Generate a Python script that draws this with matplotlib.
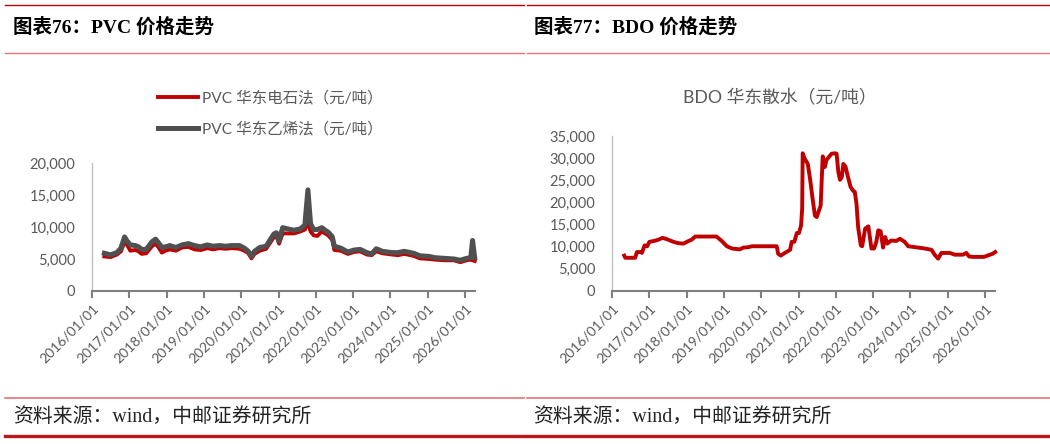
import matplotlib
matplotlib.use("Agg")
import matplotlib.pyplot as plt
from matplotlib.ticker import FuncFormatter, MultipleLocator
from matplotlib.lines import Line2D
import pandas as pd

plt.rcParams['font.family'] = ['Lato', 'Noto Sans CJK SC', 'DejaVu Sans']

# ---------------- data ----------------
pvc_dates = ["2016-05-01", "2016-07-01", "2016-09-01", "2016-10-10", "2016-11-15", "2016-12-10",
             "2017-01-10", "2017-03-01", "2017-04-01", "2017-05-01", "2017-06-15", "2017-08-10",
             "2017-09-15", "2017-10-15", "2017-11-15", "2017-12-20", "2018-02-01", "2018-04-01",
             "2018-06-01", "2018-08-01", "2018-10-01", "2018-12-01", "2019-02-01", "2019-04-01",
             "2019-06-01", "2019-08-01", "2019-10-01", "2019-12-15", "2020-02-01", "2020-03-10",
             "2020-04-10", "2020-05-10", "2020-07-01", "2020-09-01", "2020-11-15", "2020-12-10",
             "2021-01-05", "2021-02-10", "2021-04-01", "2021-06-01", "2021-08-01", "2021-09-15",
             "2021-10-15", "2021-11-10", "2021-12-10", "2022-01-15", "2022-03-01", "2022-04-01",
             "2022-05-01", "2022-06-10", "2022-07-01", "2022-09-01", "2022-11-10", "2023-01-10",
             "2023-03-10", "2023-05-15", "2023-07-01", "2023-08-15", "2023-10-15", "2024-01-15",
             "2024-03-15", "2024-05-15", "2024-08-15", "2024-10-15", "2025-01-15", "2025-03-15",
             "2025-06-15", "2025-09-15", "2025-11-15", "2026-01-15", "2026-02-25", "2026-03-15",
             "2026-04-05"]
pvc_carbide = [5400, 5300, 5700, 6200, 7700, 7200,
               6300, 6400, 6200, 5800, 5900, 7000,
               7400, 6800, 6000, 6300, 6500, 6300,
               6800, 6900, 6500, 6400, 6700, 6500,
               6700, 6600, 6700, 6600, 6300, 5900,
               5100, 5800, 6300, 6600, 8400, 8600,
               7400, 9000, 9000, 9000, 9300, 9600,
               10800, 9300, 8700, 8600, 9300, 9000,
               8700, 8000, 6400, 6300, 5800, 6100,
               6200, 5700, 5600, 6200, 5900, 5700,
               5600, 5800, 5500, 5100, 5000, 4900,
               4800, 4800, 4500, 4800, 4900, 4800,
               4700]
pvc_ethylene = [5900, 5650, 6000, 6700, 8450, 7800,
                7200, 7100, 6900, 6500, 6500, 7700,
                8100, 7500, 6800, 6900, 7100, 6800,
                7200, 7400, 7100, 6900, 7200, 7000,
                7100, 7000, 7100, 7100, 6700, 6200,
                5400, 6200, 6800, 7000, 8900, 9100,
                7800, 9900, 9700, 9500, 9700, 10300,
                15800, 10500, 9600, 9600, 9900, 9500,
                9200, 8500, 7000, 6700, 6100, 6400,
                6500, 6000, 5800, 6600, 6200, 6000,
                6000, 6200, 5900, 5500, 5400, 5200,
                5100, 5000, 4800, 5100, 5200, 7900,
                5200]

bdo_dates = ["2016-04-30", "2016-05-10", "2016-08-15", "2016-09-01", "2016-10-10", "2016-10-20",
             "2016-11-15", "2016-12-10", "2017-01-01", "2017-02-15", "2017-04-01", "2017-05-10",
             "2017-06-20", "2017-08-25", "2017-10-10", "2017-12-01", "2018-01-20", "2018-02-20",
             "2018-03-25", "2018-10-20", "2018-12-10", "2019-01-30", "2019-03-20", "2019-06-05",
             "2019-07-10", "2019-08-30", "2019-10-01", "2020-06-01", "2020-06-15", "2020-07-10",
             "2020-08-20", "2020-10-10", "2020-10-25", "2020-11-20", "2020-12-15", "2021-01-05",
             "2021-01-25", "2021-02-05", "2021-02-10", "2021-03-01", "2021-04-01", "2021-04-25",
             "2021-05-20", "2021-06-10", "2021-06-28", "2021-08-05", "2021-08-25", "2021-09-15",
             "2021-10-01", "2021-11-20", "2021-12-25", "2022-01-08", "2022-01-25", "2022-02-10",
             "2022-02-28", "2022-03-15", "2022-04-05", "2022-04-30", "2022-05-25", "2022-06-20",
             "2022-07-05", "2022-07-22", "2022-08-07", "2022-09-02", "2022-09-15", "2022-10-15",
             "2022-11-15", "2022-12-15", "2023-01-10", "2023-02-01", "2023-02-20", "2023-03-15",
             "2023-04-08", "2023-04-28", "2023-05-20", "2023-06-25", "2023-08-15", "2023-09-20",
             "2023-11-05", "2023-12-10", "2024-04-20", "2024-05-20", "2024-07-25", "2024-08-25",
             "2024-09-28", "2024-10-30", "2025-01-20", "2025-03-10", "2025-05-30", "2025-07-01",
             "2025-07-28", "2025-09-05", "2025-12-20", "2026-03-15", "2026-04-10"]
bdo_east = [8000, 7500, 7500, 8800, 8800, 8600,
            10300, 10100, 11100, 11300, 11600, 12000,
            11700, 11100, 10800, 10700, 11300, 11600,
            12300, 12300, 11300, 10100, 9600, 9400,
            9800, 9900, 10100, 10100, 8400, 8000,
            8600, 9300, 11100, 11100, 13100, 13100,
            14800, 18600, 31100, 29900, 28700, 25000,
            20500, 17000, 16700, 19300, 30400, 28000,
            29600, 31000, 31100, 31000, 26900, 25100,
            25700, 28700, 28100, 25700, 23500, 22600,
            22400, 19700, 14400, 10300, 10100, 14100,
            14600, 9600, 9600, 11100, 13700, 13500,
            9800, 12200, 10700, 11400, 11300, 11800,
            11100, 10100, 9700, 9600, 9300, 8200,
            7300, 8600, 8600, 8200, 8200, 8600,
            7800, 7700, 7700, 8400, 8800]

xtick_years = list(range(2016, 2027))

# ---------------- figure ----------------
W, H = 1050, 444
fig = plt.figure(figsize=(W / 100, H / 100), dpi=100)

red_dark = '#c00000'
red_light = '#e57373'
text_grey = '#595959'

def hline(y, x0, x1, color, lw):
    fig.add_artist(Line2D([x0 / W, x1 / W], [1 - y / H, 1 - y / H], color=color, lw=lw,
                          transform=fig.transFigure))

for (x0, x1) in [(5, 524), (527, 1050)]:
    hline(5, x0, x1, red_dark, 1.0)
    hline(53, x0, x1, red_light, 1.0)
    hline(398, x0, x1, red_light, 1.2)
    hline(436, x0, x1, '#c0161c', 2.4)

title_family = ['Liberation Serif', 'Noto Sans CJK SC']
fig.text(13 / W, 1 - 27 / H, '图表76：PVC 价格走势', family=title_family, fontweight='bold',
         fontsize=14, va='center', ha='left', color='black')
fig.text(534 / W, 1 - 27 / H, '图表77：BDO 价格走势', family=title_family, fontweight='bold',
         fontsize=14, va='center', ha='left', color='black')
src_family = ['Liberation Serif', 'Noto Sans CJK SC']
for x in (13, 533):
    fig.text(x / W, 1 - 417 / H, '资料来源：wind，中邮证券研究所', family=src_family,
             fontsize=14.3, fontweight='light', va='center', ha='left', color='#222222')

def style_axes(ax, ymax, ystep):
    ax.set_ylim(0, ymax)
    ax.yaxis.set_major_locator(MultipleLocator(ystep))
    ax.yaxis.set_major_formatter(FuncFormatter(lambda v, p: f'{int(v):,}'))
    ax.set_xlim(pd.Timestamp('2016-01-01'), pd.Timestamp('2026-04-08'))
    ax.set_xticks([pd.Timestamp(f'{y}-01-01') for y in xtick_years])
    ax.set_xticklabels([f'{y}/01/01' for y in xtick_years])
    for s in ['top', 'right']:
        ax.spines[s].set_visible(False)
    ax.spines['left'].set_color('#bfbfbf')
    ax.spines['left'].set_linewidth(1.0)
    ax.spines['bottom'].set_color('#7f7f7f')
    ax.spines['bottom'].set_linewidth(1.5)
    ax.tick_params(axis='y', length=0, pad=12, labelsize=10.5, labelcolor=text_grey)
    ax.tick_params(axis='x', length=5, width=1.5, color='#7f7f7f', direction='out',
                   labelsize=10, labelcolor=text_grey, pad=3)
    for lab in ax.get_xticklabels():
        lab.set_rotation(45)
        lab.set_ha('right')
        lab.set_va('top')
        lab.set_rotation_mode('anchor')
    ax.patch.set_alpha(0)

# Left: PVC
ax1 = fig.add_axes([92 / W, 1 - 291 / H, 383 / W, 128 / H])
d1 = pd.to_datetime(pvc_dates)
ax1.plot(d1, pvc_carbide, color=red_dark, lw=2.8, solid_joinstyle='round', zorder=2,
         clip_on=False, label='PVC 华东电石法（元/吨）')
ax1.plot(d1, pvc_ethylene, color='#505050', lw=3.6, solid_joinstyle='round', zorder=3,
         clip_on=False, label='PVC 华东乙烯法（元/吨）')
style_axes(ax1, 20000, 5000)

leg = ax1.legend(loc='upper left', bbox_to_anchor=(150 / W, 1 - 83 / H),
                 bbox_transform=fig.transFigure, frameon=False, fontsize=11.2,
                 handlelength=2.6, handletextpad=0.25, labelspacing=1.05, borderpad=0)
for t in leg.get_texts():
    t.set_color(text_grey)

# Right: BDO
ax2 = fig.add_axes([612 / W, 1 - 291 / H, 383 / W, 155 / H])
d2 = pd.to_datetime(bdo_dates)
ax2.plot(d2, bdo_east, color=red_dark, lw=2.8, solid_joinstyle='round', clip_on=False)
style_axes(ax2, 35000, 5000)
fig.text(780 / W, 1 - 98 / H, 'BDO 华东散水（元/吨）', fontsize=12.8, color=text_grey,
         ha='center', va='center')

fig.savefig('out.png', dpi=100)
